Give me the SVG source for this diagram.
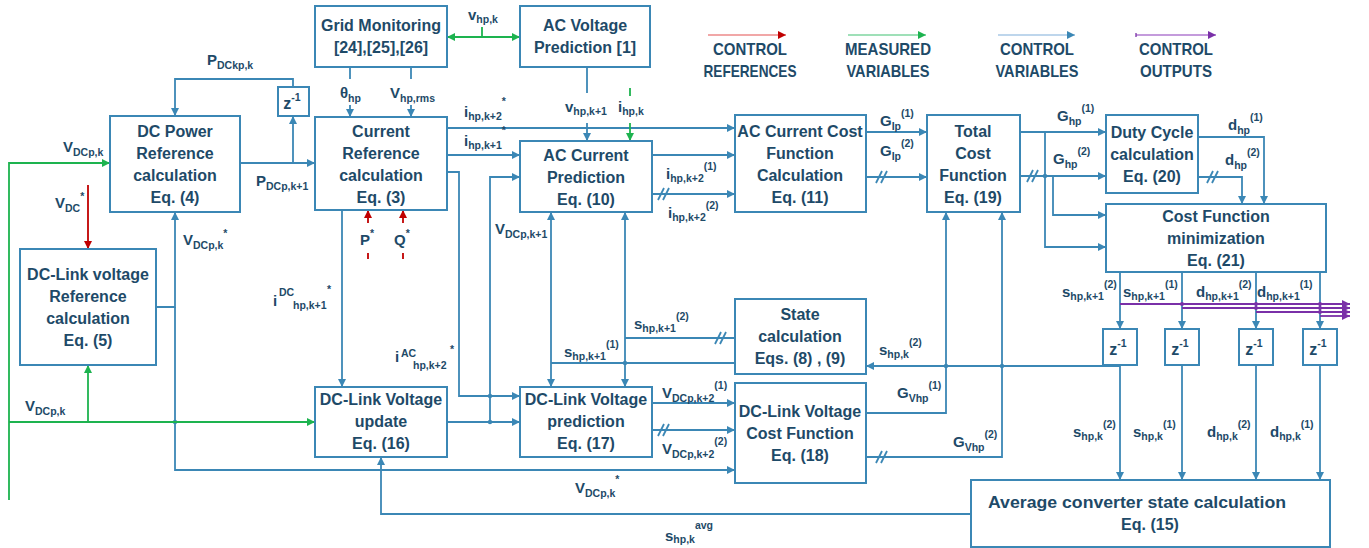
<svg xmlns="http://www.w3.org/2000/svg" width="1369" height="548" viewBox="0 0 1369 548">
<style>
.b{fill:#fff;stroke:#3b87b5;stroke-width:2}
.c{fill:none;stroke:#3b87b5;stroke-width:1.8}
.g{fill:none;stroke:#1db34f;stroke-width:1.8}
.r{fill:none;stroke:#c00000;stroke-width:1.8}
.p{fill:none;stroke:#7a30a8;stroke-width:1.8}
text{font-family:"Liberation Sans",Arial,sans-serif;font-weight:bold;fill:#1e4a68}
.t{font-size:16px;text-anchor:middle}
.l{font-size:15px}
.s{font-size:10.5px}
.lg{font-size:17px;text-anchor:middle}
</style>
<defs>
<marker id="ab" viewBox="0 0 10 10" refX="10" refY="5" markerWidth="8" markerHeight="8" markerUnits="userSpaceOnUse" orient="auto-start-reverse"><path d="M0,0L10,5L0,10z" fill="#3b87b5"/></marker>
<marker id="ag" viewBox="0 0 10 10" refX="10" refY="5" markerWidth="8" markerHeight="8" markerUnits="userSpaceOnUse" orient="auto-start-reverse"><path d="M0,0L10,5L0,10z" fill="#1db34f"/></marker>
<marker id="ar" viewBox="0 0 10 10" refX="10" refY="5" markerWidth="8" markerHeight="8" markerUnits="userSpaceOnUse" orient="auto-start-reverse"><path d="M0,0L10,5L0,10z" fill="#c00000"/></marker>
<marker id="ap" viewBox="0 0 10 10" refX="10" refY="5" markerWidth="8" markerHeight="8" markerUnits="userSpaceOnUse" orient="auto-start-reverse"><path d="M0,0L10,5L0,10z" fill="#7a30a8"/></marker>
</defs>
<rect width="1369" height="548" fill="#fff"/>

<g id="legend">
<path d="M708,35H786" stroke="#ec8a8a" stroke-width="1.3" fill="none" marker-end="url(#ar)"/>
<text class="lg" x="750" y="55" textLength="74" lengthAdjust="spacingAndGlyphs">CONTROL</text><text class="lg" x="750" y="77" textLength="93" lengthAdjust="spacingAndGlyphs">REFERENCES</text>
<path d="M848,35H926" stroke="#7fd6a0" stroke-width="1.3" fill="none" marker-end="url(#ag)"/>
<text class="lg" x="888" y="55" textLength="86" lengthAdjust="spacingAndGlyphs">MEASURED</text><text class="lg" x="888" y="77" textLength="83" lengthAdjust="spacingAndGlyphs">VARIABLES</text>
<path d="M998,35H1075" stroke="#a9c9e6" stroke-width="1.3" fill="none" marker-end="url(#ab)"/>
<text class="lg" x="1037" y="55" textLength="74" lengthAdjust="spacingAndGlyphs">CONTROL</text><text class="lg" x="1037" y="77" textLength="83" lengthAdjust="spacingAndGlyphs">VARIABLES</text>
<path d="M1136,35H1216" stroke="#b07ad0" stroke-width="1.3" fill="none" marker-end="url(#ap)"/>
<path d="M1136,33V37" stroke="#7a30a8" stroke-width="1.3"/>
<text class="lg" x="1176" y="55" textLength="74" lengthAdjust="spacingAndGlyphs">CONTROL</text><text class="lg" x="1176" y="77" textLength="72" lengthAdjust="spacingAndGlyphs">OUTPUTS</text>
</g>

<g id="connectors">
<path class="c" d="M293,87V79H175V116" marker-end="url(#ab)"/>
<path class="c" d="M240,163H315" marker-end="url(#ab)"/>
<path class="c" d="M293,163V116" marker-end="url(#ab)"/>
<path class="c" d="M156,307H175V212" marker-end="url(#ab)"/>
<path class="c" d="M175,307V470H735" marker-end="url(#ab)"/>
<path class="c" d="M350,67V79"/><path class="c" d="M350,105V117" marker-end="url(#ab)"/>
<path class="c" d="M411,67V79"/><path class="c" d="M411,105V117" marker-end="url(#ab)"/>
<path class="c" d="M587,67V93"/><path class="c" d="M587,123V141" marker-end="url(#ab)"/>
<path class="c" d="M447,128H735" marker-end="url(#ab)"/>
<path class="c" d="M447,155H520" marker-end="url(#ab)"/>
<path class="c" d="M447,172H459V396H520" marker-end="url(#ab)"/>
<path class="c" d="M342,210V387" marker-end="url(#ab)"/>
<path class="c" d="M447,422H520" marker-end="url(#ab)"/>
<path class="c" d="M490,422V177H520" marker-end="url(#ab)"/>
<path class="c" d="M551,363V212" marker-end="url(#ab)"/>
<path class="c" d="M551,363V387" marker-end="url(#ab)"/>
<path class="c" d="M551,363H735"/>
<path class="c" d="M625,338V212" marker-end="url(#ab)"/>
<path class="c" d="M625,338V387" marker-end="url(#ab)"/>
<path class="c" d="M625,338H735"/>
<path class="c" d="M715,344L721,332M720,344L726,332"/>
<path class="c" d="M652,155H735" marker-end="url(#ab)"/>
<path class="c" d="M652,194H735" marker-end="url(#ab)"/>
<path class="c" d="M658,200L664,188M663,200L669,188"/>
<path class="c" d="M866,132H927" marker-end="url(#ab)"/>
<path class="c" d="M866,177H927" marker-end="url(#ab)"/>
<path class="c" d="M876,183L882,171M881,183L887,171"/>
<path class="c" d="M1020,132H1106" marker-end="url(#ab)"/>
<path class="c" d="M1020,176H1106" marker-end="url(#ab)"/>
<path class="c" d="M1027,182L1033,170M1032,182L1038,170"/>
<path class="c" d="M1045,132V247H1106" marker-end="url(#ab)"/>
<path class="c" d="M1053,176V215H1106" marker-end="url(#ab)"/>
<path class="c" d="M1198,137H1264V204" marker-end="url(#ab)"/>
<path class="c" d="M1198,177H1242V204" marker-end="url(#ab)"/>
<path class="c" d="M1207,183L1213,171M1212,183L1218,171"/>
<path class="c" d="M1120,272V329" marker-end="url(#ab)"/>
<path class="c" d="M1182,272V329" marker-end="url(#ab)"/>
<path class="c" d="M1256,272V329" marker-end="url(#ab)"/>
<path class="c" d="M1320,272V329" marker-end="url(#ab)"/>
<path class="c" d="M1120,365V480" marker-end="url(#ab)"/>
<path class="c" d="M1182,365V480" marker-end="url(#ab)"/>
<path class="c" d="M1256,365V480" marker-end="url(#ab)"/>
<path class="c" d="M1320,365V480" marker-end="url(#ab)"/>
<path class="c" d="M1120,366H866" marker-end="url(#ab)"/>
<path class="c" d="M866,413H946V212" marker-end="url(#ab)"/>
<path class="c" d="M866,457H1002V212" marker-end="url(#ab)"/>
<path class="c" d="M876,463L882,451M881,463L887,451"/>
<path class="c" d="M652,403H735" marker-end="url(#ab)"/>
<path class="c" d="M652,430H735" marker-end="url(#ab)"/>
<path class="c" d="M658,436L664,424M663,436L669,424"/>
<path class="c" d="M971,514H381V457" marker-end="url(#ab)"/>
<g fill="#3b87b5">
<circle cx="490" cy="396" r="2.2"/><circle cx="625" cy="363" r="2.2"/><circle cx="946" cy="366" r="2.2"/><circle cx="1002" cy="366" r="2.2"/><circle cx="1045" cy="176" r="2.2"/><circle cx="175" cy="422" r="2.2"/><circle cx="490" cy="422" r="2.2"/>
</g>
<path class="g" d="M9,500V163H110" marker-end="url(#ag)"/>
<path class="g" d="M9,422H315" marker-end="url(#ag)"/>
<path class="g" d="M88,422V365" marker-end="url(#ag)"/>
<path class="g" d="M447,37H520" marker-start="url(#ag)" marker-end="url(#ag)"/>
<path class="g" d="M482,37V27"/>
<path class="g" d="M630,88V96"/>
<path class="g" d="M630,123V141" marker-end="url(#ag)"/>
<path class="r" d="M88,185V249" marker-end="url(#ar)"/>
<path class="r" d="M368,223V210" marker-end="url(#ar)"/>
<path class="r" d="M403,223V210" marker-end="url(#ar)"/>
<path class="r" d="M368,253V259M403,253V259"/>
<path class="p" d="M1120,304H1350" marker-end="url(#ap)"/>
<path class="p" d="M1182,308H1350" marker-end="url(#ap)"/>
<path class="p" d="M1256,312H1350" marker-end="url(#ap)"/>
<path class="p" d="M1320,316H1350" marker-end="url(#ap)"/>
<g fill="#7a30a8"><circle cx="1182" cy="304" r="2"/><circle cx="1256" cy="304" r="2"/><circle cx="1256" cy="308" r="2"/><circle cx="1320" cy="304" r="2"/><circle cx="1320" cy="308" r="2"/><circle cx="1320" cy="312" r="2"/></g>
</g>

<g id="labels">
<text class="l" x="207" y="65">P<tspan class="s" dy="4">DCkp,k</tspan></text>
<text class="l" x="63" y="152">V<tspan class="s" dy="4">DCp,k</tspan></text>
<text class="l" x="256" y="186">P<tspan class="s" dy="4">DCp,k+1</tspan></text>
<text class="l" x="55" y="208">V<tspan class="s" dy="4">DC</tspan><tspan class="s" dy="-12">*</tspan></text>
<text class="l" x="183" y="245">V<tspan class="s" dy="4">DCp,k</tspan><tspan class="s" dy="-12">*</tspan></text>
<text class="l" x="273" y="306">i<tspan class="s" x="279" y="296">DC</tspan><tspan class="s" x="293" y="309">hp,k+1</tspan><tspan class="s" x="327" y="293">*</tspan></text>
<text class="l" x="340" y="98">θ<tspan class="s" dy="4">hp</tspan></text>
<text class="l" x="390" y="98">V<tspan class="s" dy="4">hp,rms</tspan></text>
<text class="l" x="468" y="20">v<tspan class="s" dy="3">hp,k</tspan></text>
<text class="l" x="565" y="112">v<tspan class="s" dy="3">hp,k+1</tspan></text>
<text class="l" x="618" y="112">i<tspan class="s" dy="3">hp,k</tspan></text>
<text class="l" x="464" y="117">i<tspan class="s" dy="3">hp,k+2</tspan><tspan class="s" dy="-15">*</tspan></text>
<text class="l" x="464" y="146">i<tspan class="s" dy="3">hp,k+1</tspan><tspan class="s" dy="-15">*</tspan></text>
<text class="l" x="360" y="245">P<tspan class="s" dy="-8">*</tspan></text>
<text class="l" x="394" y="245">Q<tspan class="s" dy="-8">*</tspan></text>
<text class="l" x="495" y="234">V<tspan class="s" dy="4">DCp,k+1</tspan></text>
<text class="l" x="395" y="362">i<tspan class="s" x="401" y="357">AC</tspan><tspan class="s" x="413" y="369">hp,k+2</tspan><tspan class="s" x="450" y="353">*</tspan></text>
<text class="l" x="564" y="357">s<tspan class="s" dy="3">hp,k+1</tspan><tspan class="s" dy="-12">(1)</tspan></text>
<text class="l" x="634" y="329">s<tspan class="s" dy="3">hp,k+1</tspan><tspan class="s" dy="-12">(2)</tspan></text>
<text class="l" x="666" y="179">i<tspan class="s" dy="3">hp,k+2</tspan><tspan class="s" dy="-12">(1)</tspan></text>
<text class="l" x="668" y="218">i<tspan class="s" dy="3">hp,k+2</tspan><tspan class="s" dy="-12">(2)</tspan></text>
<text class="l" x="880" y="126">G<tspan class="s" dy="4">Ip</tspan><tspan class="s" dy="-13">(1)</tspan></text>
<text class="l" x="880" y="156">G<tspan class="s" dy="4">Ip</tspan><tspan class="s" dy="-13">(2)</tspan></text>
<text class="l" x="1057" y="121">G<tspan class="s" dy="4">hp</tspan><tspan class="s" dy="-13">(1)</tspan></text>
<text class="l" x="1053" y="164">G<tspan class="s" dy="4">hp</tspan><tspan class="s" dy="-13">(2)</tspan></text>
<text class="l" x="1228" y="130">d<tspan class="s" dy="4">hp</tspan><tspan class="s" dy="-13">(1)</tspan></text>
<text class="l" x="1225" y="165">d<tspan class="s" dy="4">hp</tspan><tspan class="s" dy="-13">(2)</tspan></text>
<text class="l" x="662" y="398">V<tspan class="s" dy="4">DCp,k+2</tspan><tspan class="s" dy="-13">(1)</tspan></text>
<text class="l" x="662" y="454">V<tspan class="s" dy="4">DCp,k+2</tspan><tspan class="s" dy="-13">(2)</tspan></text>
<text class="l" x="897" y="398">G<tspan class="s" dy="4">Vhp</tspan><tspan class="s" dy="-13">(1)</tspan></text>
<text class="l" x="953" y="447">G<tspan class="s" dy="4">Vhp</tspan><tspan class="s" dy="-13">(2)</tspan></text>
<text class="l" x="879" y="355">s<tspan class="s" dy="3">hp,k</tspan><tspan class="s" dy="-12">(2)</tspan></text>
<text class="l" x="25" y="411">V<tspan class="s" dy="4">DCp,k</tspan></text>
<text class="l" x="575" y="493">V<tspan class="s" dy="4">DCp,k</tspan><tspan class="s" dy="-14">*</tspan></text>
<text class="l" x="665" y="541">s<tspan class="s" dy="2">hp,k</tspan><tspan class="s" dy="-14">avg</tspan></text>
<text class="l" x="1062" y="297">s<tspan class="s" dy="3">hp,k+1</tspan><tspan class="s" dy="-12">(2)</tspan></text>
<text class="l" x="1123" y="297">s<tspan class="s" dy="3">hp,k+1</tspan><tspan class="s" dy="-12">(1)</tspan></text>
<text class="l" x="1196" y="297">d<tspan class="s" dy="3">hp,k+1</tspan><tspan class="s" dy="-12">(2)</tspan></text>
<text class="l" x="1257" y="297">d<tspan class="s" dy="3">hp,k+1</tspan><tspan class="s" dy="-12">(1)</tspan></text>
<text class="l" x="1073" y="437">s<tspan class="s" dy="3">hp,k</tspan><tspan class="s" dy="-12">(2)</tspan></text>
<text class="l" x="1133" y="437">s<tspan class="s" dy="3">hp,k</tspan><tspan class="s" dy="-12">(1)</tspan></text>
<text class="l" x="1207" y="437">d<tspan class="s" dy="3">hp,k</tspan><tspan class="s" dy="-12">(2)</tspan></text>
<text class="l" x="1270" y="437">d<tspan class="s" dy="3">hp,k</tspan><tspan class="s" dy="-12">(1)</tspan></text>
</g>

<g id="grid-monitoring"><rect class="b" x="315" y="6" width="132" height="61"/><text class="t" x="381" y="31">Grid Monitoring</text><text class="t" x="381" y="53">[24],[25],[26]</text></g>
<g id="ac-voltage-prediction"><rect class="b" x="520" y="6" width="130" height="61"/><text class="t" x="585" y="31">AC Voltage</text><text class="t" x="585" y="53">Prediction [1]</text></g>
<g id="dc-power-reference"><rect class="b" x="110" y="116" width="130" height="96"/><text class="t" x="175" y="137">DC Power</text><text class="t" x="175" y="159">Reference</text><text class="t" x="175" y="181">calculation</text><text class="t" x="175" y="203">Eq. (4)</text></g>
<g id="z-delay-power"><rect class="b" x="278" y="87" width="31" height="29"/><text class="t" x="292" y="109">z<tspan class="s" dy="-8">-1</tspan></text></g>
<g id="current-reference"><rect class="b" x="315" y="117" width="132" height="93"/><text class="t" x="381" y="137">Current</text><text class="t" x="381" y="159">Reference</text><text class="t" x="381" y="181">calculation</text><text class="t" x="381" y="203">Eq. (3)</text></g>
<g id="ac-current-prediction"><rect class="b" x="520" y="141" width="132" height="71"/><text class="t" x="586" y="161">AC Current</text><text class="t" x="586" y="183">Prediction</text><text class="t" x="586" y="205">Eq. (10)</text></g>
<g id="ac-current-cost"><rect class="b" x="735" y="115" width="131" height="97"/><text class="t" x="800" y="137">AC Current Cost</text><text class="t" x="800" y="159">Function</text><text class="t" x="800" y="181">Calculation</text><text class="t" x="800" y="203">Eq. (11)</text></g>
<g id="total-cost"><rect class="b" x="927" y="115" width="93" height="97"/><text class="t" x="973" y="137">Total</text><text class="t" x="973" y="159">Cost</text><text class="t" x="973" y="181">Function</text><text class="t" x="973" y="203">Eq. (19)</text></g>
<g id="duty-cycle"><rect class="b" x="1106" y="115" width="92" height="78"/><text class="t" x="1152" y="138">Duty Cycle</text><text class="t" x="1152" y="160">calculation</text><text class="t" x="1152" y="182">Eq. (20)</text></g>
<g id="cost-minimization"><rect class="b" x="1106" y="204" width="220" height="68"/><text class="t" x="1216" y="222">Cost Function</text><text class="t" x="1216" y="244">minimization</text><text class="t" x="1216" y="266">Eq. (21)</text></g>
<g id="dc-link-reference"><rect class="b" x="20" y="249" width="136" height="116"/><text class="t" x="88" y="280">DC-Link voltage</text><text class="t" x="88" y="302">Reference</text><text class="t" x="88" y="324">calculation</text><text class="t" x="88" y="346">Eq. (5)</text></g>
<g id="state-calculation"><rect class="b" x="735" y="299" width="131" height="75"/><text class="t" x="800" y="320">State</text><text class="t" x="800" y="342">calculation</text><text class="t" x="800" y="364">Eqs. (8) , (9)</text></g>
<g id="dc-link-update"><rect class="b" x="315" y="387" width="132" height="70"/><text class="t" x="381" y="405">DC-Link Voltage</text><text class="t" x="381" y="427">update</text><text class="t" x="381" y="449">Eq. (16)</text></g>
<g id="dc-link-prediction"><rect class="b" x="520" y="387" width="132" height="70"/><text class="t" x="586" y="405">DC-Link Voltage</text><text class="t" x="586" y="427">prediction</text><text class="t" x="586" y="449">Eq. (17)</text></g>
<g id="dc-link-cost"><rect class="b" x="735" y="383" width="131" height="100"/><text class="t" x="800" y="417">DC-Link Voltage</text><text class="t" x="800" y="439">Cost Function</text><text class="t" x="800" y="461">Eq. (18)</text></g>
<g id="average-state"><rect class="b" x="971" y="480" width="359" height="67"/><text class="t" x="1137" y="508" textLength="298" lengthAdjust="spacingAndGlyphs">Average converter state calculation</text><text class="t" x="1150" y="530">Eq. (15)</text></g>
<g id="z-delay-1"><rect class="b" x="1103" y="329" width="34" height="36"/><text class="t" x="1118" y="355">z<tspan class="s" dy="-8">-1</tspan></text></g>
<g id="z-delay-2"><rect class="b" x="1165" y="329" width="34" height="36"/><text class="t" x="1180" y="355">z<tspan class="s" dy="-8">-1</tspan></text></g>
<g id="z-delay-3"><rect class="b" x="1239" y="329" width="34" height="36"/><text class="t" x="1254" y="355">z<tspan class="s" dy="-8">-1</tspan></text></g>
<g id="z-delay-4"><rect class="b" x="1303" y="329" width="34" height="36"/><text class="t" x="1318" y="355">z<tspan class="s" dy="-8">-1</tspan></text></g>
</svg>
